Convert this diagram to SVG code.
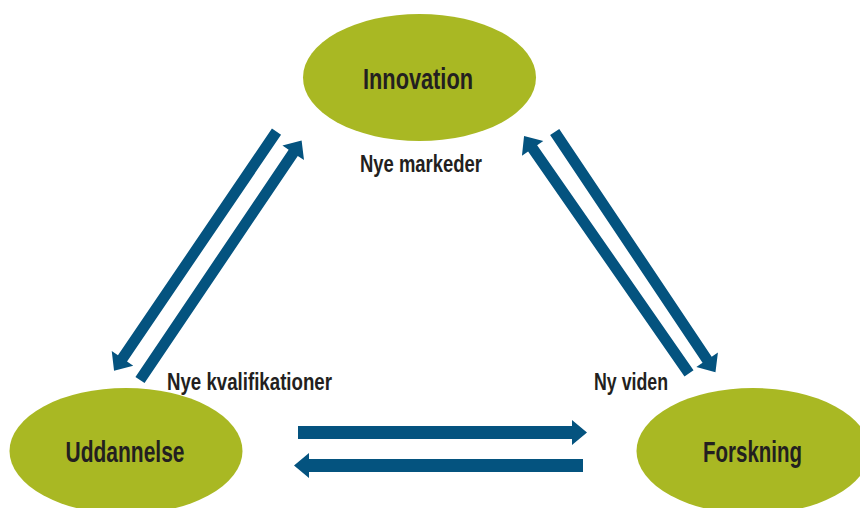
<svg xmlns="http://www.w3.org/2000/svg" xmlns:xlink="http://www.w3.org/1999/xlink" width="860" height="508" viewBox="0 0 860 508">
<style>
.node ellipse{fill:#a9b823}
.node text{font-family:"Liberation Sans",Arial,sans-serif;font-weight:bold;font-size:29px;fill:#231f20;text-anchor:middle}
.lbl{font-family:"Liberation Sans",Arial,sans-serif;font-weight:bold;font-size:24px;fill:#231f20}
.arr{fill:#04537f}
</style>
<defs>
<path id="arrD" d="M0,-5.5 H274 V-13 L289,0 L274,13 V5.5 H0 Z"/>
<path id="arrH" d="M0,-6.5 H274 V-12.5 L289,0 L274,12.5 V6.5 H0 Z"/>
</defs>
<rect width="860" height="508" fill="#ffffff"/>
<g id="connectors" class="arr">
<use xlink:href="#arrD" transform="translate(276.5,131.7) rotate(124.2)"/>
<use xlink:href="#arrD" transform="translate(140,380) rotate(-56)"/>
<use xlink:href="#arrD" transform="translate(689,373.3) rotate(-124.8)"/>
<use xlink:href="#arrD" transform="translate(554.7,132) rotate(56.2)"/>
<use xlink:href="#arrH" transform="translate(298,432.5)"/>
<use xlink:href="#arrH" transform="translate(583,465.5) rotate(180)"/>
</g>
<g id="innovation" class="node">
<ellipse cx="419.5" cy="77.5" rx="116.5" ry="63.5"/>
<text x="418" y="89" textLength="110" lengthAdjust="spacingAndGlyphs">Innovation</text>
</g>
<g id="uddannelse" class="node">
<ellipse cx="126" cy="451" rx="116.5" ry="63"/>
<text x="125" y="462" textLength="119" lengthAdjust="spacingAndGlyphs">Uddannelse</text>
</g>
<g id="forskning" class="node">
<ellipse cx="753" cy="451" rx="116.5" ry="63"/>
<text x="752.5" y="462" textLength="99" lengthAdjust="spacingAndGlyphs">Forskning</text>
</g>
<g id="labels">
<text class="lbl" x="360" y="172" textLength="122" lengthAdjust="spacingAndGlyphs">Nye markeder</text>
<text class="lbl" x="167" y="390" textLength="165" lengthAdjust="spacingAndGlyphs">Nye kvalifikationer</text>
<text class="lbl" x="594" y="390" textLength="74" lengthAdjust="spacingAndGlyphs">Ny viden</text>
</g>
</svg>
